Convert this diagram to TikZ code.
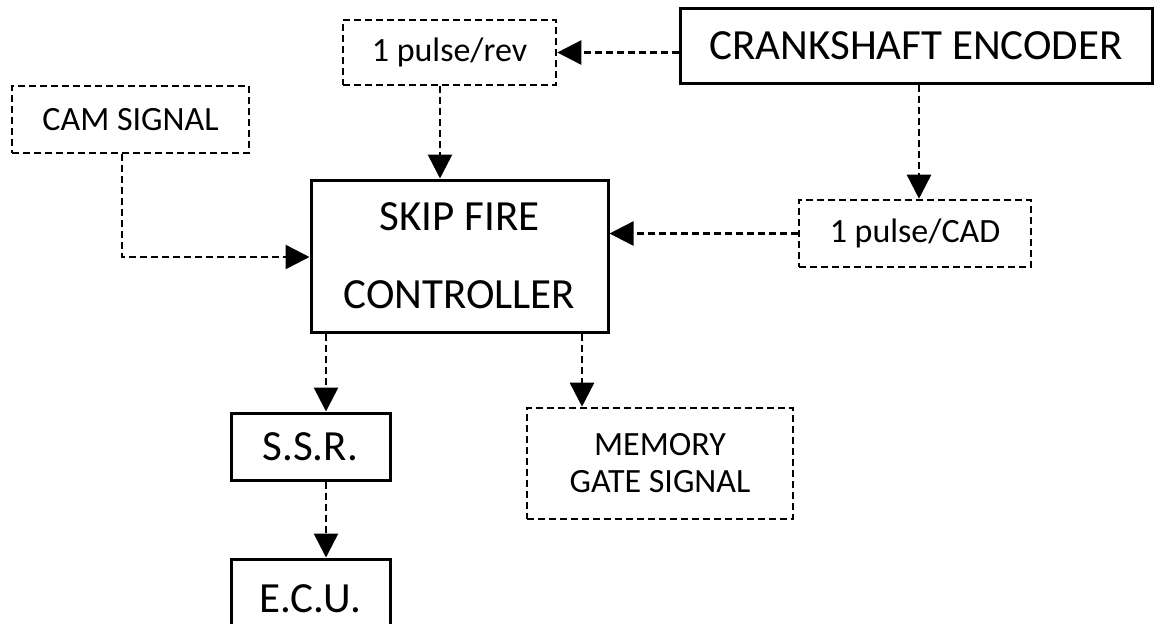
\documentclass[tikz,border=0pt]{standalone}
\usepackage{fontspec}
\setmainfont{Carlito}
\usetikzlibrary{arrows.meta}
\tikzset{
  solidbox/.style={draw, line width=1.5pt, inner sep=0pt, align=center, font=\fontsize{21.5}{26}\selectfont},
  dashbox/.style={draw, line width=1.3pt, dash pattern=on 3.5pt off 2pt, inner sep=0pt, align=center, font=\fontsize{17}{18.5}\selectfont},
  sig/.style={line width=1.3pt, dash pattern=on 3.5pt off 2pt, -{Triangle[length=12pt,width=12pt]}},
}
\begin{document}
\begin{tikzpicture}[x=0.5pt, y=-0.5pt]
        \useasboundingbox (0,0) rectangle (1156,623);
        % blocks
        \begin{scope}
            \node[solidbox, minimum width=236pt, minimum height=37.5pt] (crank) at (916,45.5) {CRANKSHAFT ENCODER};
            \node[dashbox, minimum width=106.5pt, minimum height=32.5pt] (rev) at (449.5,52.5) {1 pulse/rev};
            \node[dashbox, minimum width=118.5pt, minimum height=33.5pt] (cam) at (130.5,119.5) {CAM SIGNAL};
            \node[solidbox, minimum width=148.5pt, minimum height=76pt, font=\fontsize{21.5}{39}\selectfont] (sfc) at (459.5,256) {SKIP FIRE\\CONTROLLER};
            \node[dashbox, minimum width=116pt, minimum height=33.5pt] (cad) at (915,233.5) {1 pulse/CAD};
            \node[solidbox, minimum width=79.5pt, minimum height=33.5pt] (ssr) at (310.5,446.5) {S.S.R.};
            \node[dashbox, minimum width=133pt, minimum height=55.5pt] (mem) at (660,463.5) {MEMORY\\GATE SIGNAL};
            \node[solidbox, minimum width=79.5pt, minimum height=40pt] (ecu) at (310.5,599) {E.C.U.};
        \end{scope}
        % signal paths
        \coordinate (camturn) at (122,257);
        \coordinate (revcol) at (440,0);
        \coordinate (cadcol) at (919,0);
        \coordinate (ssrcol) at (326,0);
        \coordinate (memcol) at (582,0);
        \begin{scope}
            \draw[sig] (crank.west |- rev.east) -- (rev.east);
            \draw[sig] (rev.south -| revcol) -- (revcol |- sfc.north);
            \draw[sig] (crank.south -| cadcol) -- (cadcol |- cad.north);
            \draw[sig] (cad.west) -- (cad.west -| sfc.east);
            \draw[sig] (cam.south -| camturn) -- (camturn) -- (camturn -| sfc.west);
            \draw[sig] (sfc.south -| ssrcol) -- (ssrcol |- ssr.north);
            \draw[sig] (sfc.south -| memcol) -- (memcol |- mem.north);
            \draw[sig] (ssr.south -| ssrcol) -- (ssrcol |- ecu.north);
        \end{scope}
    \end{tikzpicture}
\end{document}
